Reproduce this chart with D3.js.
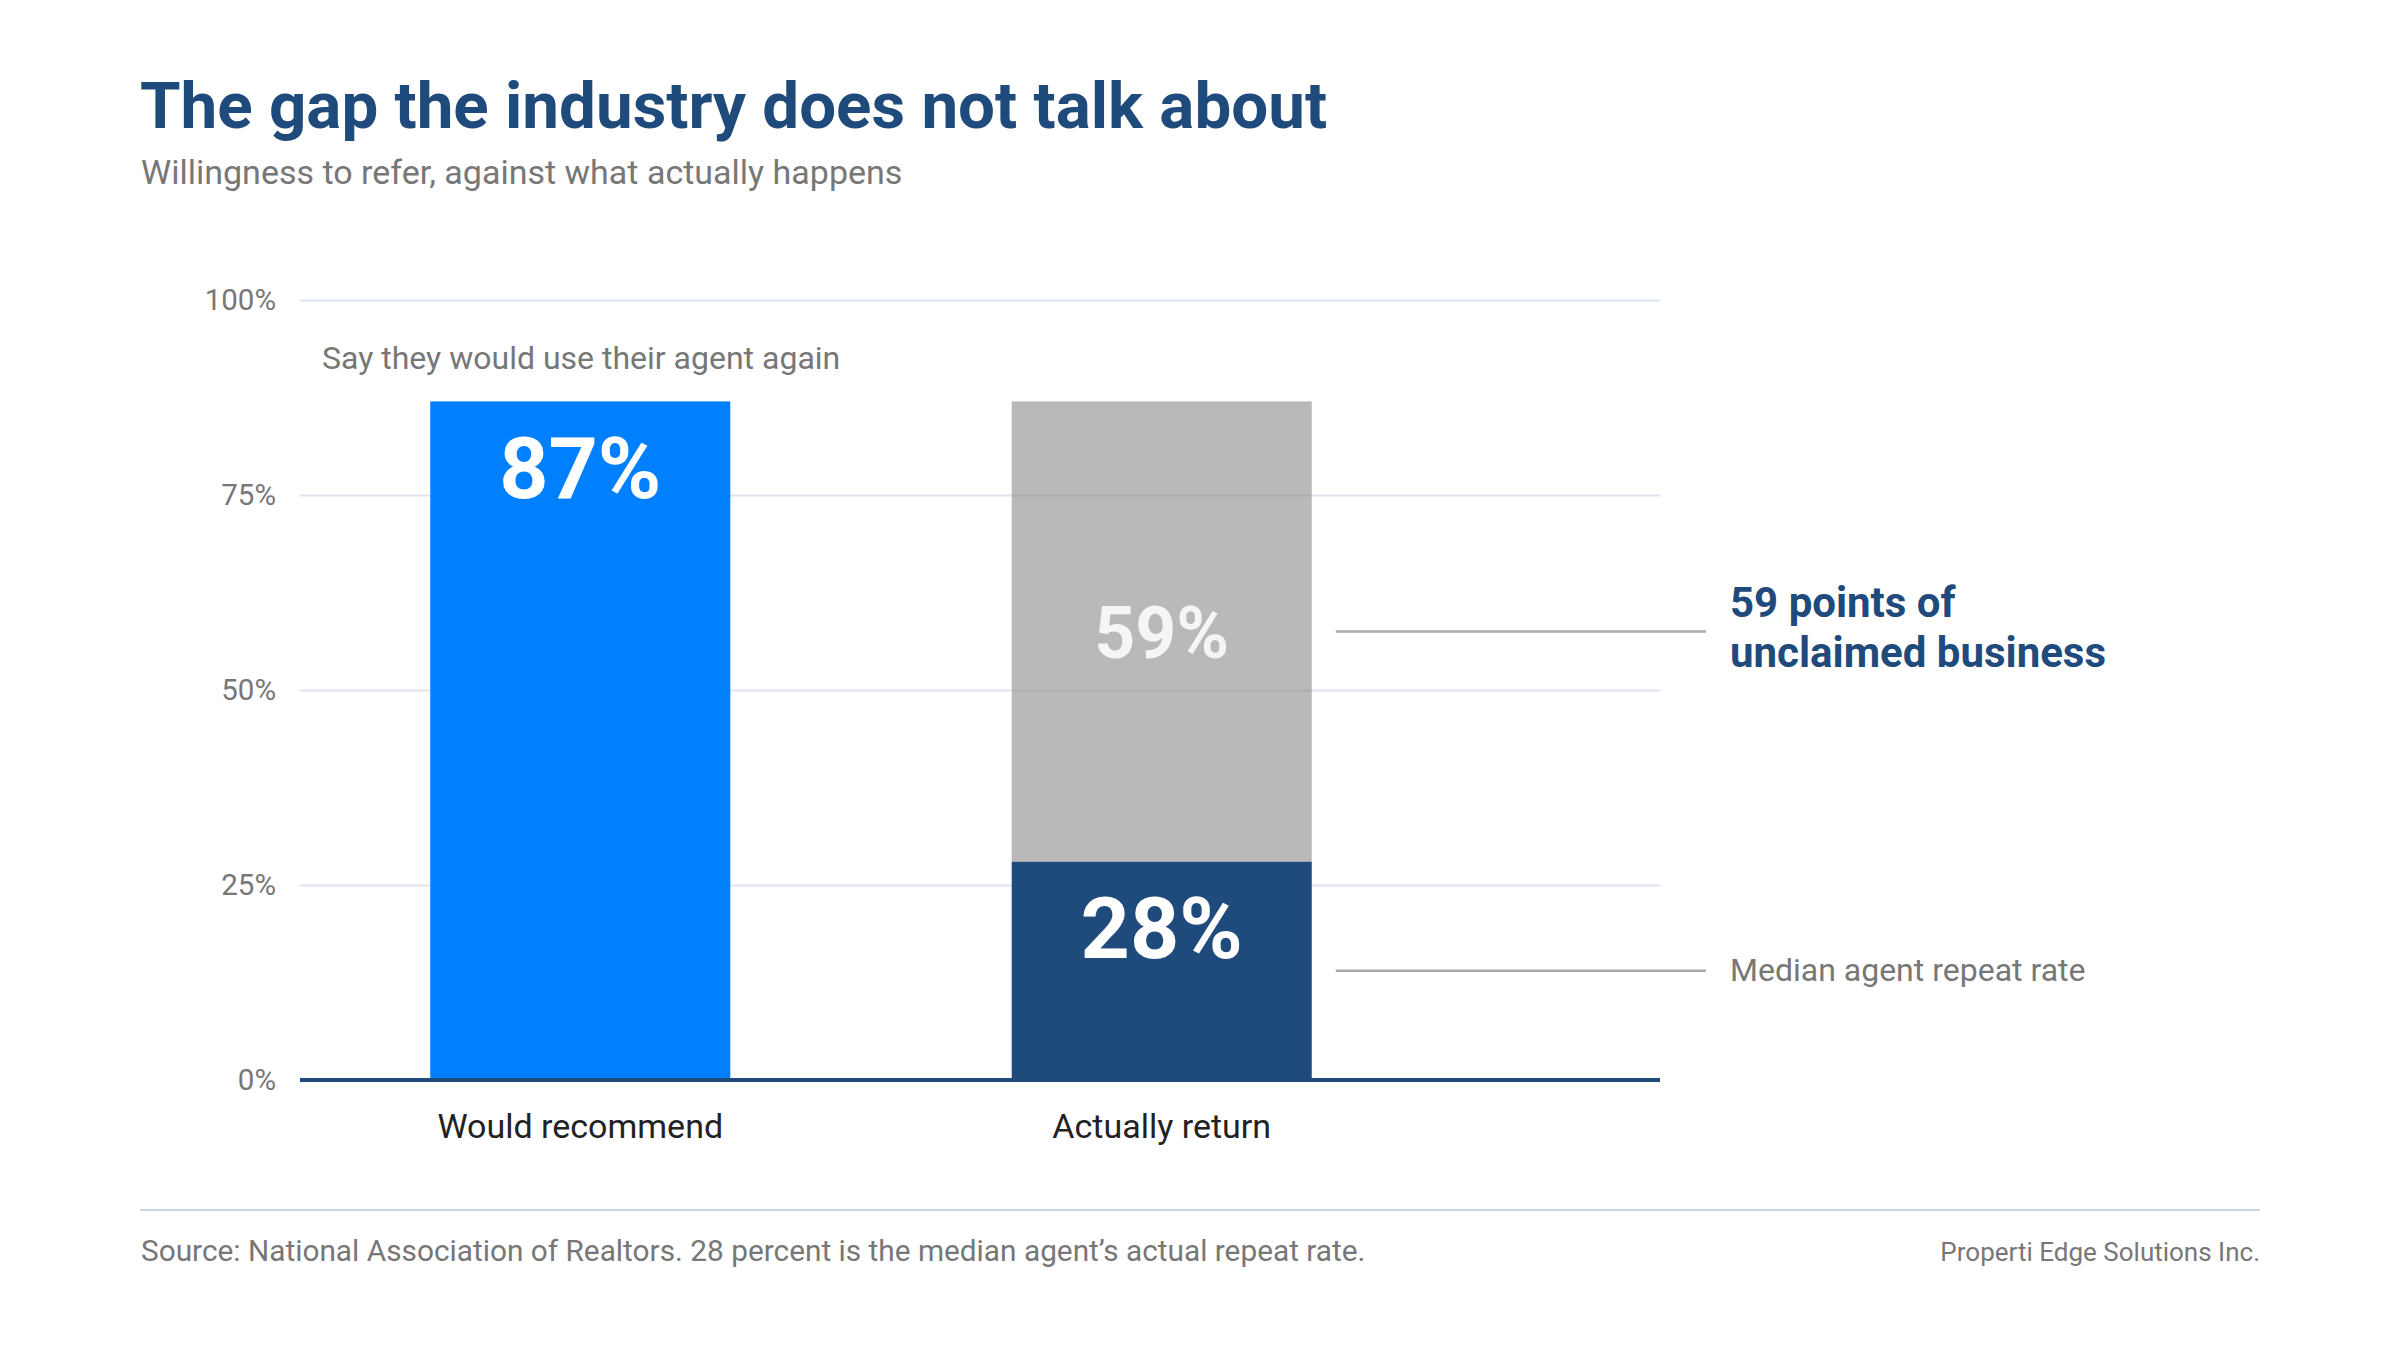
<!DOCTYPE html>
<html>
<head>
<meta charset="utf-8">
<script src="https://cdn.jsdelivr.net/npm/d3@7"></script>
<style>
  html, body { margin: 0; padding: 0; background: #ffffff; }
  svg { display: block; font-family: Roboto, "Noto Sans", sans-serif; }
</style>
</head>
<body>
<svg id="chart" width="2400" height="1350"></svg>
<script>
// ---- data ----
const categories = ["Would recommend", "Actually return"];
const recommendValues = [87, 0];      // blue bar
const returnValues = [0, 28];         // navy segment (actual return)
const gapValues = [0, 59];            // grey segment (unclaimed)
const yTicks = [0, 25, 50, 75, 100];
const yTickLabels = ["0%", "25%", "50%", "75%", "100%"];
const titleText = "The gap the industry does not talk about";
const subtitleText = "Willingness to refer, against what actually happens";
const barNote = "Say they would use their agent again";
const gapNote = ["59 points of", "unclaimed business"];
const medianNote = "Median agent repeat rate";
const sourceText = "Source: National Association of Realtors. 28 percent is the median agent\u2019s actual repeat rate.";
const creditText = "Properti Edge Solutions Inc.";

// ---- layout ----
const svg = d3.select("#chart");
const navy = "#1f4a7c", blue = "#007fff", grey = "#777777";
const plotLeft = 300, plotRight = 1660, plotTop = 300, plotBottom = 1080;

const x = d3.scaleBand().domain(categories).range([plotLeft, 1442])
  .paddingInner(0.484).paddingOuter(0.224);
const y = d3.scaleLinear().domain([0, 100]).range([plotBottom, plotTop]);

// title & subtitle
svg.append("text").attr("x", 140).attr("y", 128)
  .attr("font-size", 65.5).attr("font-weight", 700).attr("fill", navy)
  .text(titleText);
svg.append("text").attr("x", 141).attr("y", 184)
  .attr("font-size", 34).attr("fill", grey).text(subtitleText);

// gridlines + y labels via axis
const yAxis = d3.axisLeft(y).tickValues(yTicks)
  .tickFormat((d, i) => yTickLabels[i])
  .tickSize(-(plotRight - plotLeft)).tickPadding(24);
const gy = svg.append("g").attr("transform", `translate(${plotLeft},0)`).call(yAxis);
gy.select(".domain").remove();
gy.selectAll(".tick line").attr("stroke", "#dde6f0").attr("stroke-width", 2);
gy.selectAll(".tick text").attr("font-size", 29.5).attr("fill", grey)
  .attr("font-family", "Roboto, sans-serif");

// bars
const bw = x.bandwidth();
// blue
svg.append("g").selectAll("rect").data(categories.map((c, i) => ({c, v: recommendValues[i]})).filter(d => d.v > 0))
  .join("rect")
  .attr("x", d => x(d.c)).attr("width", bw)
  .attr("y", d => y(d.v)).attr("height", d => y(0) - y(d.v))
  .attr("fill", blue);
// navy return segment
svg.append("g").selectAll("rect").data(categories.map((c, i) => ({c, v: returnValues[i]})).filter(d => d.v > 0))
  .join("rect")
  .attr("x", d => x(d.c)).attr("width", bw)
  .attr("y", d => y(d.v)).attr("height", d => y(0) - y(d.v))
  .attr("fill", navy);
// grey gap segment (stacked on return)
svg.append("g").selectAll("rect").data(categories.map((c, i) => ({c, lo: returnValues[i], v: gapValues[i]})).filter(d => d.v > 0))
  .join("rect")
  .attr("x", d => x(d.c)).attr("width", bw)
  .attr("y", d => y(d.lo + d.v)).attr("height", d => y(d.lo) - y(d.lo + d.v))
  .attr("fill", "#8a8a8a").attr("fill-opacity", 0.6);

// baseline
svg.append("line").attr("x1", plotLeft).attr("x2", plotRight)
  .attr("y1", y(0)).attr("y2", y(0))
  .attr("stroke", navy).attr("stroke-width", 4);

// value labels
const cx = c => x(c) + bw / 2;
svg.append("text").attr("x", cx(categories[0])).attr("y", y(recommendValues[0]) + 97)
  .attr("text-anchor", "middle").attr("font-size", 86).attr("font-weight", 700)
  .attr("fill", "#ffffff").text(recommendValues[0] + "%");
svg.append("text").attr("x", cx(categories[1])).attr("y", y(returnValues[1]) + 96)
  .attr("text-anchor", "middle").attr("font-size", 86).attr("font-weight", 700)
  .attr("fill", "#ffffff").text(returnValues[1] + "%");
const gapMid = y(returnValues[1] + gapValues[1] / 2);
svg.append("text").attr("x", cx(categories[1])).attr("y", gapMid + 26)
  .attr("text-anchor", "middle").attr("font-size", 71.5).attr("font-weight", 700)
  .attr("fill", "#f5f5f5").text(gapValues[1] + "%");

// note above blue bar
svg.append("text").attr("x", 322).attr("y", 369)
  .attr("font-size", 32).attr("fill", grey).text(barNote);

// category labels
svg.append("g").selectAll("text").data(categories).join("text")
  .attr("x", d => cx(d)).attr("y", 1138)
  .attr("text-anchor", "middle").attr("font-size", 34).attr("fill", "#222222")
  .text(d => d);

// annotations
const lineX1 = x(categories[1]) + bw + 24, lineX2 = 1706, labelX = 1730;
svg.append("line").attr("x1", lineX1).attr("x2", lineX2).attr("y1", gapMid).attr("y2", gapMid)
  .attr("stroke", "#aaaaaa").attr("stroke-width", 2.5);
const gapLabel = svg.append("text").attr("x", labelX).attr("y", gapMid - 15)
  .attr("font-size", 42).attr("font-weight", 700).attr("fill", navy);
gapLabel.selectAll("tspan").data(gapNote).join("tspan")
  .attr("x", labelX).attr("dy", (d, i) => i === 0 ? 0 : 50).text(d => d);

const retMid = y(returnValues[1] / 2);
svg.append("line").attr("x1", lineX1).attr("x2", lineX2).attr("y1", retMid).attr("y2", retMid)
  .attr("stroke", "#aaaaaa").attr("stroke-width", 2.5);
svg.append("text").attr("x", labelX).attr("y", retMid + 10)
  .attr("font-size", 32).attr("fill", grey).text(medianNote);

// footer
svg.append("line").attr("x1", 140).attr("x2", 2260).attr("y1", 1210).attr("y2", 1210)
  .attr("stroke", "#c8d6e3").attr("stroke-width", 2);
svg.append("text").attr("x", 141).attr("y", 1261)
  .attr("font-size", 29.8).attr("fill", grey).text(sourceText);
svg.append("text").attr("x", 2260).attr("y", 1261).attr("text-anchor", "end")
  .attr("font-size", 26).attr("fill", grey).text(creditText);
</script>
</body>
</html>
